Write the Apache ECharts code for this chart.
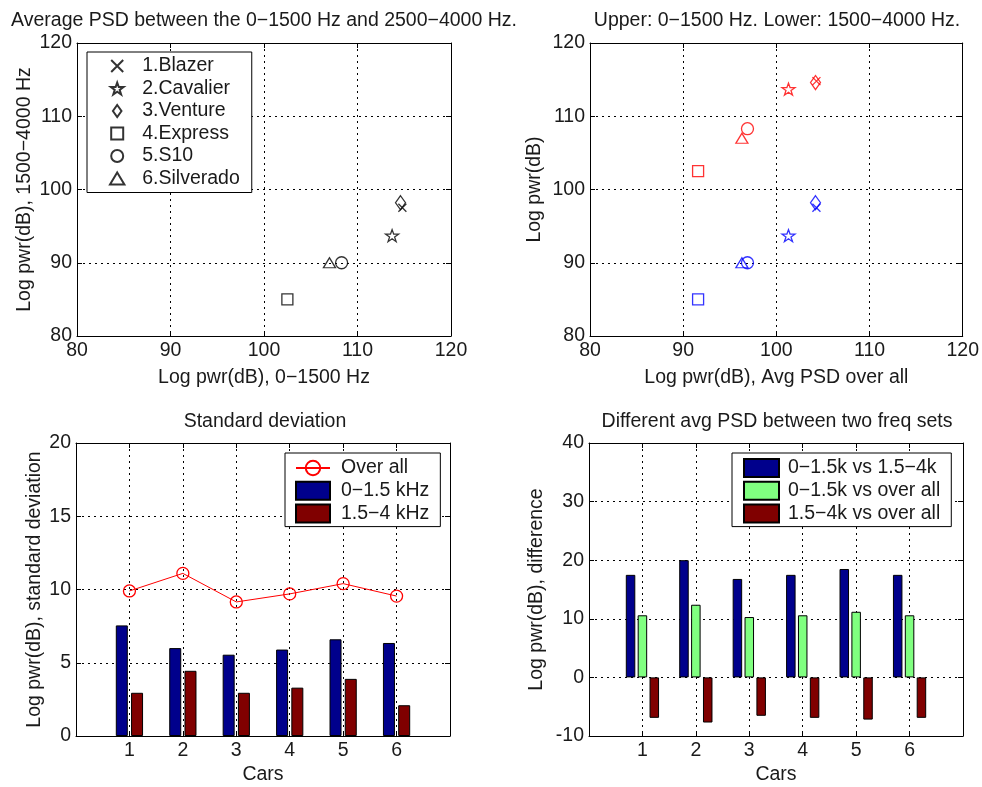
<!DOCTYPE html>
<html>
<head>
<meta charset="utf-8">
<script src="https://cdn.jsdelivr.net/npm/echarts@6/dist/echarts.min.js"></script>
<style>
  html, body { margin: 0; padding: 0; background: #fff; }
  #chart { width: 982px; height: 787px; }
</style>
</head>
<body>
<div id="chart"></div>
<script>
// --- data --------------------------------------------------------------------
const carNames = ["1.Blazer", "2.Cavalier", "3.Venture", "4.Express", "5.S10", "6.Silverado"];
const cars = [1, 2, 3, 4, 5, 6];

// average PSD per band (dB)
const psdLow = [114.8, 113.7, 114.6, 102.5, 108.3, 107.0];   // 0-1500 Hz
const psdHigh = [97.5, 93.7, 98.2, 85.0, 90.0, 90.0];        // 1500-4000 Hz
const psdAll = [104.3, 101.3, 104.2, 91.6, 96.9, 96.3];      // over all

// standard deviation (dB)
const sdAll = [9.9, 11.1, 9.15, 9.7, 10.4, 9.55];
const sdLow = [7.55, 6.0, 5.55, 5.9, 6.6, 6.35];
const sdHigh = [2.95, 4.45, 2.95, 3.3, 3.9, 2.1];

// differences between band averages (dB)
const diffLowHigh = [17.5, 20.0, 16.8, 17.5, 18.5, 17.5];
const diffLowAll = [10.6, 12.4, 10.3, 10.6, 11.2, 10.6];
const diffHighAll = [-6.9, -7.7, -6.55, -6.9, -7.2, -6.9];

// --- styling ------------------------------------------------------------------
const INK = "#1a1a1a";
const FONT = '"Liberation Sans", Arial, sans-serif';
const FS = 19.5;
const BLUE = "#00008c", DRED = "#800000", GREEN = "#80ff80";
const txt = { color: INK, fontSize: FS, fontFamily: FONT };

// MATLAB-ish marker set: x, pentagram, diamond, square, circle, triangle
const MARK = [
  { symbol: "path://M0,0L10,10M10,0L0,10", size: [8, 8] },
  { symbol: "path://M50,0L61.8,34.5L97.6,34.5L68.6,55.9L79.4,90.5L50,69.1L20.6,90.5L31.4,55.9L2.4,34.5L38.2,34.5Z", size: [13, 12] },
  { symbol: "path://M5,0L10,7L5,14L0,7Z", size: [10, 14] },
  { symbol: "path://M0,0H10V10H0Z", size: [11, 11] },
  { symbol: "circle", size: 12 },
  { symbol: "path://M6,0L12,10L0,10Z", size: [12, 10] },
];

const grids = [
  { left: 77, top: 43, width: 374, height: 293 },
  { left: 590, top: 43, width: 373, height: 293 },
  { left: 76, top: 443, width: 374, height: 293 },
  { left: 589, top: 443, width: 374, height: 293 },
];

const dotted = { color: "#000", width: 1, type: [2, 4] };

// main axis + a mirrored one on the opposite side (box with inward ticks)
function axes(dim, g, min, max, interval, name, nameGap, fmt) {
  const main = {
    type: "value", gridIndex: g, min, max, interval,
    position: dim === "x" ? "bottom" : "left",
    name, nameLocation: "middle", nameGap, nameTextStyle: { ...txt },
    axisLine: { show: true, onZero: false, lineStyle: { color: "#000", width: 1 } },
    axisTick: { show: true, inside: true, length: 5, lineStyle: { color: "#000" } },
    axisLabel: { ...txt, margin: 5, formatter: fmt },
    splitLine: { show: true, showMinLine: false, showMaxLine: false, lineStyle: dotted },
  };
  const mirror = {
    type: "value", gridIndex: g, min, max, interval,
    position: dim === "x" ? "top" : "right",
    axisLine: { show: true, onZero: false, lineStyle: { color: "#000", width: 1 } },
    axisTick: { show: true, inside: true, length: 5, lineStyle: { color: "#000" } },
    axisLabel: { show: false },
    splitLine: { show: false },
  };
  return [main, mirror];
}

const carFmt = (v) => (v >= 1 && v <= 6 ? String(v) : "");

const xAxis = [
  ...axes("x", 0, 80, 120, 10, "Log pwr(dB), 0\u22121500 Hz", 32),
  ...axes("x", 1, 80, 120, 10, "Log pwr(dB), Avg PSD over all", 32),
  ...axes("x", 2, 0, 7, 1, "Cars", 29, carFmt),
  ...axes("x", 3, 0, 7, 1, "Cars", 29, carFmt),
];
const yAxis = [
  ...axes("y", 0, 80, 120, 10, "Log pwr(dB), 1500\u22124000 Hz", 42),
  ...axes("y", 1, 80, 120, 10, "Log pwr(dB)", 45),
  ...axes("y", 2, 0, 20, 5, "Log pwr(dB), standard deviation", 31),
  ...axes("y", 3, -10, 40, 10, "Log pwr(dB), difference", 42),
];

const hollow = (c) => ({ color: "rgba(0,0,0,0)", borderColor: c, borderWidth: 1.3 });
const series = [];

// top-left: 0-1500 vs 1500-4000 per car
carNames.forEach((n, i) => {
  series.push({
    type: "scatter", name: n, xAxisIndex: 0, yAxisIndex: 0,
    symbol: MARK[i].symbol, symbolSize: MARK[i].size,
    itemStyle: hollow("#000"),
    data: [[psdLow[i], psdHigh[i]]],
  });
});

// top-right: over-all avg vs each band (red upper, blue lower)
carNames.forEach((n, i) => {
  series.push({
    type: "scatter", name: "_band" + i, xAxisIndex: 2, yAxisIndex: 2,
    symbol: MARK[i].symbol, symbolSize: MARK[i].size,
    itemStyle: hollow("#f00"),
    data: [
      { value: [psdAll[i], psdLow[i]], itemStyle: hollow("#f00") },
      { value: [psdAll[i], psdHigh[i]], itemStyle: hollow("#00f") },
    ],
  });
});

const bar = (name, xi, yi, vals, color, w, gap) => ({
  type: "bar", name, xAxisIndex: xi, yAxisIndex: yi,
  barWidth: w, barGap: gap,
  itemStyle: { color, borderColor: "#000", borderWidth: 1 },
  data: cars.map((c, i) => [c, vals[i]]),
});

// bottom-left: standard deviation
series.push(bar("0\u22121.5 kHz", 4, 4, sdLow, BLUE, 12, "27%"));
series.push(bar("1.5\u22124 kHz", 4, 4, sdHigh, DRED, 12, "27%"));
series.push({
  type: "line", name: "Over all", xAxisIndex: 4, yAxisIndex: 4,
  symbol: "circle", symbolSize: 12, z: 5,
  lineStyle: { color: "#f00", width: 1 },
  itemStyle: hollow("#f00"),
  data: cars.map((c, i) => [c, sdAll[i]]),
});

// bottom-right: differences
series.push(bar("0\u22121.5k vs 1.5\u22124k", 6, 6, diffLowHigh, BLUE, 9.5, "25%"));
series.push(bar("0\u22121.5k vs over all", 6, 6, diffLowAll, GREEN, 9.5, "25%"));
series.push(bar("1.5\u22124k vs over all", 6, 6, diffHighAll, DRED, 9.5, "25%"));

const legendBase = {
  orient: "vertical",
  backgroundColor: "#fff",
  borderColor: "#000",
  borderWidth: 1,
  borderRadius: 0,
  selectedMode: false,
  textStyle: { ...txt },
};

const legend = [
  {
    ...legendBase, left: 87, top: 52, padding: [4, 12, 4, 22],
    itemWidth: 40, itemHeight: 12, itemGap: 2.5,
    data: carNames,
  },
  {
    ...legendBase, left: 285, top: 453, padding: [5, 11, 3, 10],
    itemWidth: 34, itemHeight: 18, itemGap: 2.8,
    textStyle: { ...txt, padding: [0, 0, 0, 6] },
    data: [
      { name: "Over all" },
      { name: "0\u22121.5 kHz", icon: "rect" },
      { name: "1.5\u22124 kHz", icon: "rect" },
    ],
  },
  {
    ...legendBase, left: 732, top: 453, padding: [5, 11, 3, 11],
    itemWidth: 35, itemHeight: 18, itemGap: 2.8,
    textStyle: { ...txt, padding: [0, 0, 0, 4] },
    data: [
      { name: "0\u22121.5k vs 1.5\u22124k", icon: "rect" },
      { name: "0\u22121.5k vs over all", icon: "rect" },
      { name: "1.5\u22124k vs over all", icon: "rect" },
    ],
  },
];

const title = (text, x, y) => ({
  type: "text", x, y,
  style: {
    text, fill: INK, font: `${FS}px ${FONT}`,
    align: "center", verticalAlign: "middle",
    textAlign: "center", textVerticalAlign: "middle",
  },
});

const chart = echarts.init(document.getElementById("chart"), null, { renderer: "canvas" });
chart.setOption({
  animation: false,
  backgroundColor: "#fff",
  grid: grids.map((g) => ({ ...g, show: false })),
  xAxis,
  yAxis,
  legend,
  series,
  graphic: [
    title("Average PSD between the 0\u22121500 Hz and 2500\u22124000 Hz.", 264, 21),
    title("Upper: 0\u22121500 Hz. Lower: 1500\u22124000 Hz.", 777, 21),
    title("Standard deviation", 265, 422),
    title("Different avg PSD between two freq sets", 777, 422),
  ],
});
</script>
</body>
</html>
